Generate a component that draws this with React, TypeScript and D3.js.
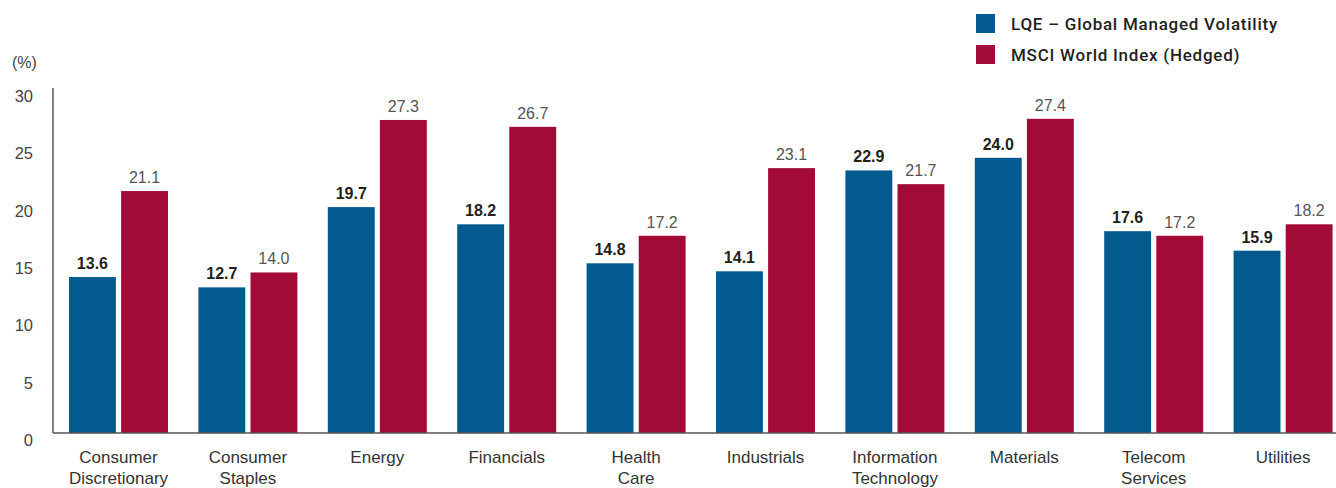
import React from "react";
import * as d3 from "d3";

const categories = [
  ["Consumer", "Discretionary"],
  ["Consumer", "Staples"],
  ["Energy"],
  ["Financials"],
  ["Health", "Care"],
  ["Industrials"],
  ["Information", "Technology"],
  ["Materials"],
  ["Telecom", "Services"],
  ["Utilities"],
];
const lqeValues = [13.6, 12.7, 19.7, 18.2, 14.8, 14.1, 22.9, 24.0, 17.6, 15.9];
const msciValues = [21.1, 14.0, 27.3, 26.7, 17.2, 23.1, 21.7, 27.4, 17.2, 18.2];
const seriesNames = ["LQE – Global Managed Volatility", "MSCI World Index (Hedged)"];
const yTicks = [0, 5, 10, 15, 20, 25, 30];

const BLUE = "#025a8f";
const RED = "#a20b37";
const FONT = "'Liberation Sans', Arial, Helvetica, sans-serif";

export default function App() {
  const W = 1336, H = 488;
  const axisX = 53;
  const base = 433;
  const y = d3.scaleLinear().domain([0, 30]).range([base, 89]);
  const keys = categories.map((c) => c.join(" "));
  const x = d3.scaleBand().domain(keys).range([53.8, 1347.8]).paddingInner(0).paddingOuter(0);
  const inner = d3.scaleBand().domain(["lqe", "msci"]).range([15.2, 114.2]).paddingInner(0.1);
  const series = [
    { key: "lqe", values: lqeValues, color: BLUE, bold: true },
    { key: "msci", values: msciValues, color: RED, bold: false },
  ];
  return (
    <svg width={W} height={H} style={{ position: "absolute", left: 0, top: 0, background: "#fff" }} fontFamily={FONT}>
      {/* Legend */}
      {seriesNames.map((n, i) => (
        <g key={n}>
          <rect x={976} y={14 + i * 31} width={19} height={19} fill={i === 0 ? BLUE : RED} />
          <text x={1011} y={29.5 + i * 31} fontSize={17} fill="#231f20" fontFamily="Roboto, 'Liberation Sans', sans-serif" fontWeight={500} letterSpacing={0.75}>
            {n}
          </text>
        </g>
      ))}
      <text x={12} y={68} fontSize={16} fill="#444">(%)</text>
      {yTicks.map((t) => (
        <text key={t} x={33} y={y(t) + 13} fontSize={16.5} fill="#444" textAnchor="end">{t}</text>
      ))}
      {keys.map((k, i) => (
        <g key={k} transform={`translate(${x(k)},0)`}>
          {series.map((s) => {
            const v = s.values[i];
            const bx = inner(s.key)!;
            const bw = inner.bandwidth();
            return (
              <g key={s.key}>
                <rect x={bx} y={y(v)} width={bw} height={base - y(v)} fill={s.color} />
                <text
                  x={bx + bw / 2}
                  y={y(v) - 8}
                  textAnchor="middle"
                  fontSize={16}
                  fontWeight={s.bold ? "bold" : "normal"}
                  fill={s.bold ? "#231f20" : "#555"}
                >
                  {v.toFixed(1)}
                </text>
              </g>
            );
          })}
          {categories[i].map((line, j) => (
            <text key={j} x={x.bandwidth() / 2} y={463 + j * 21} textAnchor="middle" fontSize={17} fill="#333">
              {line}
            </text>
          ))}
        </g>
      ))}
      <line x1={axisX} x2={axisX} y1={88} y2={base} stroke="#333" strokeWidth={1.2} />
      <line x1={axisX} x2={W} y1={base} y2={base} stroke="#555" strokeWidth={1.5} />
    </svg>
  );
}
